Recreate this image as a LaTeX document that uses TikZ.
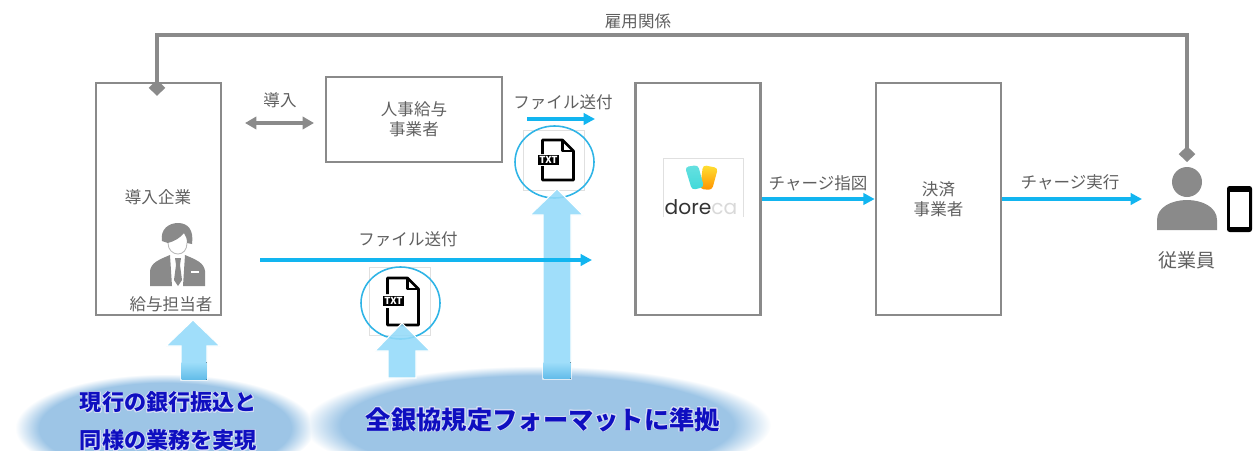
\documentclass[tikz,border=0pt]{standalone}
\usepackage{fontspec}
\setmainfont{Noto Sans CJK JP}
\newfontfamily\logofont{Poppins}
\usepackage{contour}
\contourlength{0.45pt}
\usepackage{tikz}
\usetikzlibrary{arrows.meta, positioning}

\definecolor{linegray}{HTML}{8A8A8A}
\definecolor{textgray}{HTML}{5F5F5F}
\definecolor{sendblue}{HTML}{12B5F0}
\definecolor{liftblue}{HTML}{93DAF9}
\definecolor{liftdeep}{HTML}{62BCE9}
\definecolor{blobblue}{HTML}{9DC5E6}
\definecolor{notedeep}{HTML}{0F0FC0}
\definecolor{notehalo}{HTML}{D5DDF5}
\definecolor{ringblue}{HTML}{2FB4E6}

\pgfdeclareradialshading{blobshade}{\pgfpointorigin}{color(0bp)=(blobblue); color(21bp)=(blobblue); color(25bp)=(white); color(50bp)=(white)}

\tikzset{
    partybox/.style={draw=linegray, line width=1.5pt, align=center, inner sep=0pt, font=\fontsize{9.4}{11.6}\selectfont, text=textgray},
    plainlabel/.style={inner sep=0pt, font=\fontsize{9.4}{11.6}\selectfont, text=textgray},
    notelabel/.style={inner sep=0pt, align=center, text=notedeep},
    sendarrow/.style={draw=sendblue, line width=2pt, -{Triangle[length=6.5pt, width=6.5pt]}},
    grayarrow/.style={draw=linegray, line width=2pt, {Triangle[length=6.5pt, width=7pt]}-{Triangle[length=6.5pt, width=7pt]}},
    liftarrow/.style={fill=liftblue, draw=white, line width=0.6pt, fill opacity=0.88},
    liftfoot/.style={top color=liftblue!88!white, bottom color=liftdeep},
    softblob/.style={shading=blobshade},
    filering/.style={draw=ringblue, line width=0.9pt},
    fileline/.style={draw=black, line width=1.5pt, line join=round},
}

\begin{document}
\begin{tikzpicture}[x=0.02cm, y=-0.02cm]
    \useasboundingbox (0,0) rectangle (1253,450);
    \clip (0,0) rectangle (1253,450);

    % Soft ellipses at the bottom
    \path[softblob] (165,428) ellipse (150 and 54);
    \path[softblob, blend mode=darken] (537,425) ellipse (234 and 59);

    % Parties
    \node[partybox, minimum width=2.5cm, minimum height=4.64cm] (company) at (158.5,199) {};
    \node[partybox, minimum width=3.52cm, minimum height=1.7cm] (vendor) at (414,119.5) {人事給与\\事業者};
    \node[partybox, minimum width=2.5cm, minimum height=4.64cm] (dorecabox) at (698,199) {};
    \node[partybox, minimum width=2.5cm, minimum height=4.64cm] (settle) at (938.5,199) {決済\\事業者};

    \node[plainlabel] (companylabel) at (158,197) {導入企業};
    \node[plainlabel] (payroll) at (171,304) {給与担当者};
    \node[plainlabel, font=\fontsize{10.8}{12}\selectfont] (stafflabel) at (1187,260) {従業員};

    % Payroll person
    \fill[linegray] (162,241) .. controls (160,229) and (169,223) .. (178,223) .. controls (188,223) and (194,230) .. (192,244)
        -- (187,243) .. controls (187,239) and (186,236) .. (184,233) .. controls (180,238) and (175,241) .. (168,243) -- cycle;
    \draw[linegray!60, line width=0.5pt] (168,243) .. controls (168,250) and (173,254) .. (178,254) .. controls (183,254) and (187,250) .. (187,243);
    \fill[linegray] (150,286) -- (150,271) .. controls (151,263) and (158,260) .. (170,255) -- (172,286) -- cycle;
    \fill[linegray] (205,286) -- (205,271) .. controls (204,263) and (197,260) .. (185,255) -- (183,286) -- cycle;
    \fill[linegray] (175,258) -- (181,258) -- (180,265) -- (182,280) -- (178,286) -- (174,280) -- (176,265) -- cycle;
    \fill[white] (191,271) rectangle (199,273);

    % Employee and phone
    \fill[linegray] (1187,182) circle (15);
    \fill[linegray] (1157,230) -- (1157,220) .. controls (1157,207) and (1172,200) .. (1187,200)
        .. controls (1202,200) and (1217,207) .. (1217,220) -- (1217,230) -- cycle;
    \fill[black, rounded corners=1.5pt] (1227,186) rectangle (1252,232);
    \fill[white] (1230,192) rectangle (1249,227);

    % doreca logo
    \draw[black!12, line width=0.4pt] (663,217) -- (663,158) -- (743,158) -- (743,217);
    \path[top color=yellow!70!orange!80, bottom color=orange!85!yellow, rounded corners=2pt] (703,165) -- (718,168) -- (712,190) -- (700,189) -- cycle;
    \path[top color=cyan!60!teal!60, bottom color=cyan!60!teal!75, rounded corners=2pt] (685,167) -- (698,165) -- (704,187) -- (692,190) -- cycle;
    \node[inner sep=0pt, font=\logofont\fontsize{11.5}{12}\selectfont] (doreca) at (701,207) {\textcolor{black!80}{dore}\textcolor{black!15}{ca}};

    % File icon below the long arrow
    \begin{scope}[shift={(400.5,303)}]
        \draw[black!12, fill=white, line width=0.4pt] (-31,-36) rectangle (30,32);
        \draw[filering] (0,0) ellipse (39.5 and 36);
        \draw[fileline] (-13,-9) -- (-13,-25) -- (7,-25) -- (18,-14) -- (18,22) -- (-13,22) -- (-13,5);
        \draw[fileline] (7,-25) -- (7,-14) -- (18,-14);
        \node[fill=black, text=white, inner sep=0.8pt, font=\fontsize{5.5}{6}\bfseries] (txtlow) at (-7,-2) {TXT};
    \end{scope}

    % File icon below the short arrow
    \begin{scope}[shift={(554.5,162)}]
        \draw[black!12, fill=white, line width=0.4pt] (-31,-32) rectangle (30,28);
        \draw[filering] (0,0) ellipse (39.5 and 36);
        \draw[fileline] (-12,-8) -- (-12,-22) -- (8,-22) -- (19,-11) -- (19,18) -- (-12,18) -- (-12,4);
        \draw[fileline] (8,-22) -- (8,-11) -- (19,-11);
        \node[fill=black, text=white, inner sep=0.8pt, font=\fontsize{5.5}{6}\bfseries] (txthigh) at (-6,-2) {TXT};
    \end{scope}

    % Employment relation
    \coordinate (relcorner) at (1187,35);
    \coordinate (relend) at (1187,162);
    \draw[draw=linegray, line width=2pt, {Diamond[length=9pt, width=9.5pt]}-{Diamond[length=9pt, width=9.5pt]}, shorten <=-8pt]
        (company.north -| 157,0) |- (relcorner) -- (relend);
    \node[plainlabel] (rellabel) at (638,21) {雇用関係};

    % Introduction arrow
    \coordinate (introa) at (245,123);
    \coordinate (introb) at (314,123);
    \draw[grayarrow] (introa) -- (introb);
    \node[plainlabel] (introlabel) at (280,100) {導入};

    % Lifting arrows
    \draw[liftarrow] (193,320) -- (220,346) -- (207,346) -- (207,380) -- (181,380) -- (181,346) -- (166,346) -- cycle;
    \draw[liftarrow] (402,323) -- (430,351) -- (416,351) -- (416,378) -- (388,378) -- (388,351) -- (375,351) -- cycle;
    \draw[liftarrow] (557,189) -- (583,215) -- (571,215) -- (571,379) -- (543,379) -- (543,215) -- (530,215) -- cycle;
    \fill[liftfoot] (181.5,362) rectangle (206.5,379.5);
    \fill[liftfoot] (543.5,362) rectangle (570.5,378.5);

    % File sending arrows
    \coordinate (sendhigha) at (527,119);
    \coordinate (sendhighb) at (595,119);
    \draw[sendarrow] (sendhigha) -- (sendhighb);
    \node[plainlabel] (sendhighlabel) at (563,102) {ファイル送付};

    \coordinate (sendlowa) at (260,260);
    \coordinate (sendlowb) at (592,260);
    \draw[sendarrow] (sendlowa) -- (sendlowb);
    \node[plainlabel] (sendlowlabel) at (408,239) {ファイル送付};

    % Charge arrows
    \draw[sendarrow] (dorecabox) -- (settle);
    \node[plainlabel] (orderlabel) at (818,183) {チャージ指図};
    \coordinate (staffin) at (1142,199);
    \draw[sendarrow] (settle) -- (staffin);
    \node[plainlabel] (runlabel) at (1070,182) {チャージ実行};

    % Notes
    \node[notelabel, font=\fontsize{12.6}{21.6}\selectfont\bfseries] (noteleft) at (168.5,422) {\contour{notehalo}{現行の銀行振込と}\\\contour{notehalo}{同様の業務を実現}};
    \node[notelabel, font=\fontsize{14.4}{16}\selectfont\bfseries] (noteright) at (543,420) {\contour{notehalo}{全銀協規定フォーマットに準拠}};
\end{tikzpicture}
\end{document}
